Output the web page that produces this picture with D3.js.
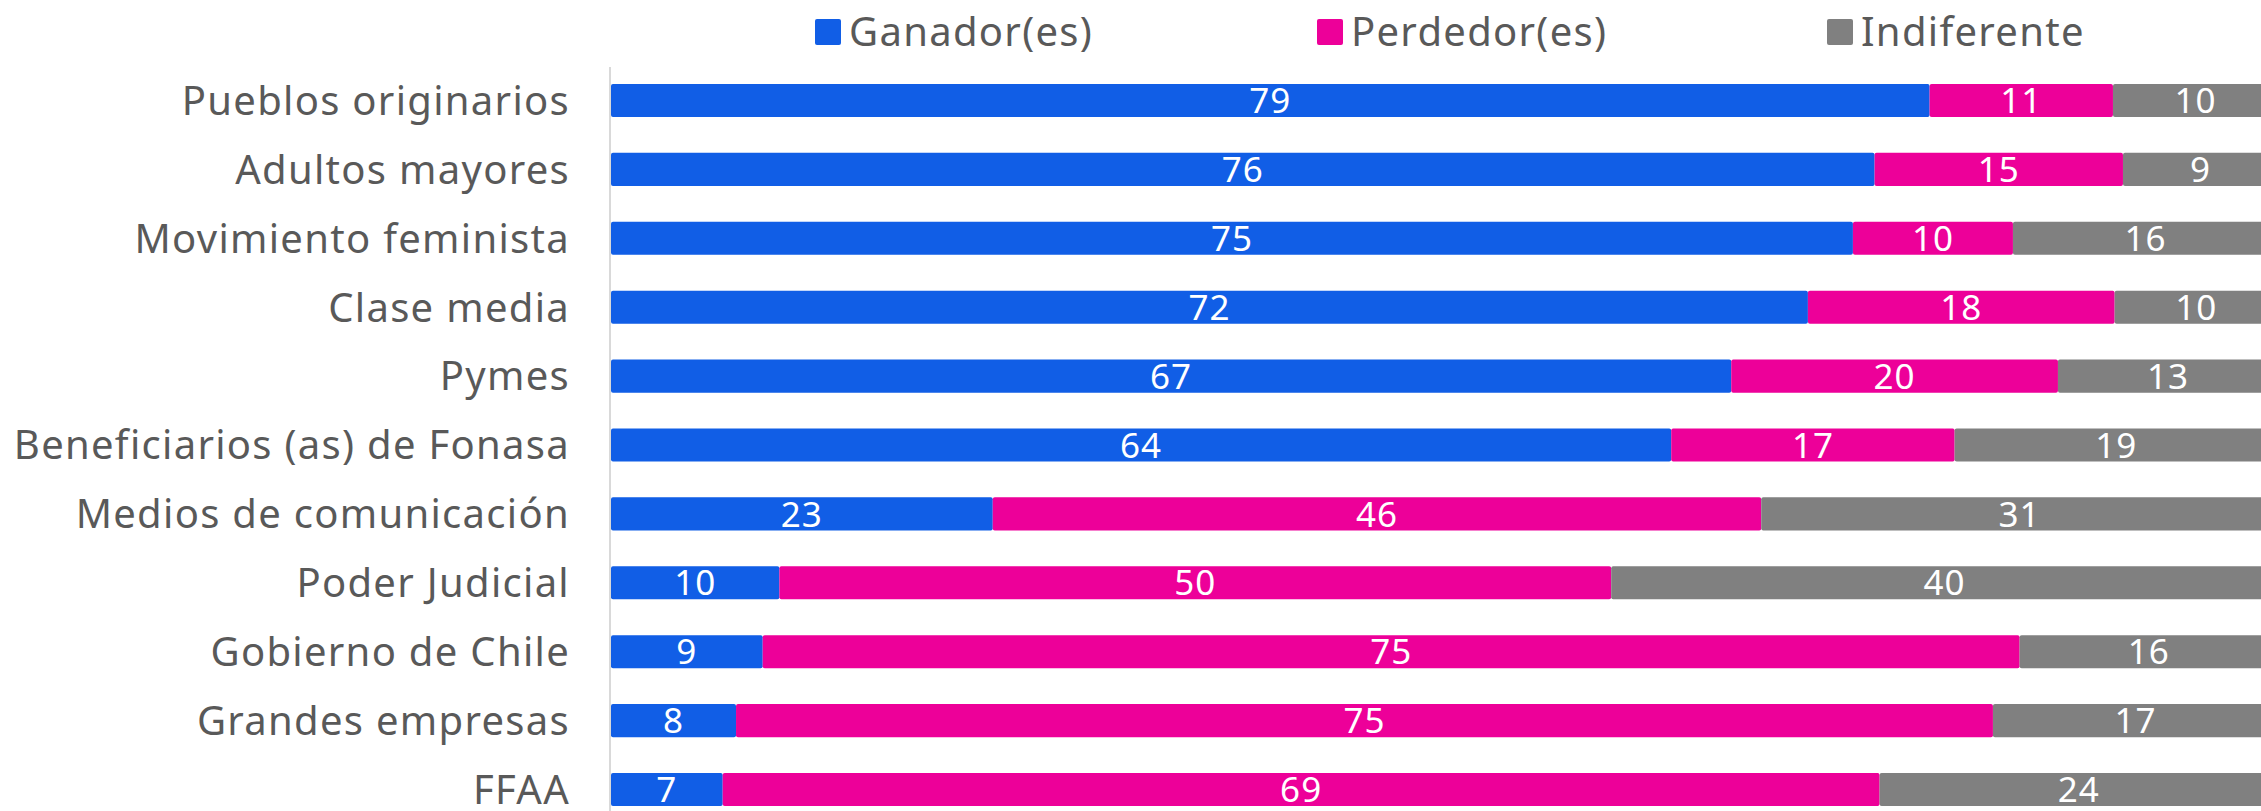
<!DOCTYPE html>
<html>
<head>
<meta charset="utf-8">
<script src="https://cdn.jsdelivr.net/npm/d3@7"></script>
<style>
  html, body { margin: 0; padding: 0; background: #fff; overflow: hidden; }
  svg { display: block; font-family: "Noto Sans", sans-serif; }
</style>
</head>
<body>
<svg id="chart"></svg>
<script>
// categories, top to bottom
const categories = [
  "Pueblos originarios",
  "Adultos mayores",
  "Movimiento feminista",
  "Clase media",
  "Pymes",
  "Beneficiarios (as) de Fonasa",
  "Medios de comunicación",
  "Poder Judicial",
  "Gobierno de Chile",
  "Grandes empresas",
  "FFAA"
];

const seriesNames = ["Ganador(es)", "Perdedor(es)", "Indiferente"];
// percentages (unrounded); labels show them rounded
const ganador     = [79.1, 75.8, 74.5, 71.8, 67.2, 63.6, 22.9, 10.1,  9.1,  7.5,  6.7];
const perdedor    = [11.0, 14.9,  9.6, 18.4, 19.6, 17.0, 46.1, 49.9, 75.4, 75.4, 69.4];
const indiferente = [ 9.9,  9.3, 15.9,  9.8, 13.2, 19.4, 31.0, 40.0, 15.5, 17.1, 23.9];
const colors = ["#115EE6", "#ED0099", "#808080"];

const width = 2261;
const height = 811;
// the original chart runs a little past the right and bottom edges
const margin = { top: 66, right: -17, bottom: -13, left: 611 };

const svg = d3.select("#chart")
  .attr("width", width)
  .attr("height", height);

// build rows for the stack
const rows = categories.map((c, i) => ({
  cat: c,
  "Ganador(es)": ganador[i],
  "Perdedor(es)": perdedor[i],
  "Indiferente": indiferente[i]
}));

const stacked = d3.stack().keys(seriesNames)(rows);

const x = d3.scaleLinear()
  .domain([0, 100])
  .range([margin.left, width - margin.right]);

const y = d3.scaleBand()
  .domain(categories)
  .range([margin.top, height - margin.bottom])
  .paddingInner(0.52)
  .paddingOuter(0.26);

const color = d3.scaleOrdinal().domain(seriesNames).range(colors);

// bars
const layer = svg.append("g")
  .selectAll("g")
  .data(stacked)
  .join("g")
  .attr("fill", d => color(d.key));

layer.selectAll("rect")
  .data(d => d)
  .join("rect")
  .attr("x", d => x(d[0]))
  .attr("y", d => y(d.data.cat))
  .attr("width", d => x(d[1]) - x(d[0]))
  .attr("height", y.bandwidth())
  .attr("rx", 2);

// value labels
layer.selectAll("text")
  .data(s => s.map(d => ({ d, key: s.key })))
  .join("text")
  .attr("x", o => (x(o.d[0]) + x(o.d[1])) / 2)
  .attr("y", o => y(o.d.data.cat) + y.bandwidth() / 2)
  .attr("dy", "0.36em")
  .attr("text-anchor", "middle")
  .attr("fill", "#fff")
  .attr("font-size", 35)
  .attr("letter-spacing", 1)
  .text(o => Math.round(o.d.data[o.key]));

// y axis line
svg.append("line")
  .attr("x1", x(0) - 1)
  .attr("x2", x(0) - 1)
  .attr("y1", margin.top + 1)
  .attr("y2", height)
  .attr("stroke", "#d9d9d9")
  .attr("stroke-width", 2);

// category labels
svg.append("g")
  .selectAll("text")
  .data(categories)
  .join("text")
  .attr("x", x(0) - 41)
  .attr("y", d => y(d) + y.bandwidth() / 2)
  .attr("dy", "0.36em")
  .attr("text-anchor", "end")
  .attr("fill", "#595959")
  .attr("font-size", 40)
  .attr("letter-spacing", 1.3)
  .text(d => d);

// legend
const legendX = [815, 1317, 1827];
const legend = svg.append("g")
  .selectAll("g")
  .data(seriesNames)
  .join("g")
  .attr("transform", (d, i) => `translate(${legendX[i]},32)`);

legend.append("rect")
  .attr("x", 0)
  .attr("y", -13)
  .attr("width", 26)
  .attr("height", 26)
  .attr("rx", 2)
  .attr("fill", d => color(d));

legend.append("text")
  .attr("x", 34)
  .attr("dy", "0.36em")
  .attr("fill", "#595959")
  .attr("font-size", 40)
  .attr("letter-spacing", 1.3)
  .text(d => d);
</script>
</body>
</html>
